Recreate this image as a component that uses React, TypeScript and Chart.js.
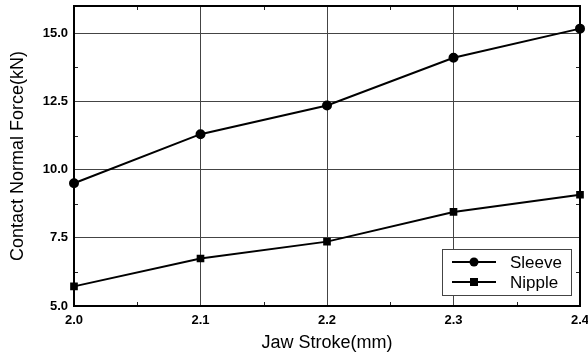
import React, { useEffect, useRef } from "react";
import { Chart, registerables } from "chart.js";

Chart.register(...registerables);

const jawStroke = [2.0, 2.1, 2.2, 2.3, 2.4];
const sleeveForce = [9.5, 11.3, 12.35, 14.1, 15.17];
const nippleForce = [5.72, 6.74, 7.36, 8.45, 9.08];
const yTicks = [5.0, 7.5, 10.0, 12.5, 15.0];
const xTicks = [2.0, 2.1, 2.2, 2.3, 2.4];
const seriesNames = ["Sleeve", "Nipple"];

const FONT = "'Liberation Sans', Arial, sans-serif";

const frameAndMinor = {
  id: "frameAndMinor",
  afterDatasetsDraw(chart: any) {
    const { ctx, chartArea, scales } = chart;
    const xs = scales.x;
    const ys = scales.y;
    ctx.save();
    ctx.strokeStyle = "#222";
    ctx.lineWidth = 1;
    for (let i = 0; i < xTicks.length - 1; i++) {
      const v = (xTicks[i] + xTicks[i + 1]) / 2;
      const px = Math.round(xs.getPixelForValue(v)) + 0.5;
      ctx.beginPath();
      ctx.moveTo(px, chartArea.bottom);
      ctx.lineTo(px, chartArea.bottom - 4);
      ctx.moveTo(px, chartArea.top);
      ctx.lineTo(px, chartArea.top + 4);
      ctx.stroke();
    }
    for (let i = 0; i < yTicks.length - 1; i++) {
      const v = (yTicks[i] + yTicks[i + 1]) / 2;
      const py = Math.round(ys.getPixelForValue(v)) + 0.5;
      ctx.beginPath();
      ctx.moveTo(chartArea.left, py);
      ctx.lineTo(chartArea.left + 4, py);
      ctx.moveTo(chartArea.right, py);
      ctx.lineTo(chartArea.right - 4, py);
      ctx.stroke();
    }
    ctx.strokeStyle = "#000";
    ctx.lineWidth = 2;
    ctx.strokeRect(chartArea.left, chartArea.top, chartArea.right - chartArea.left, chartArea.bottom - chartArea.top);
    ctx.restore();
  },
};

const boxLegend = {
  id: "boxLegend",
  afterDraw(chart: any) {
    const { ctx, chartArea } = chart;
    const w = 129;
    const h = 46;
    const x0 = chartArea.right - 9 - w;
    const y0 = chartArea.bottom - 11 - h;
    ctx.save();
    ctx.fillStyle = "#fff";
    ctx.fillRect(x0, y0, w, h);
    ctx.strokeStyle = "#444";
    ctx.lineWidth = 1;
    ctx.strokeRect(x0 + 0.5, y0 + 0.5, w, h);
    const styles = ["circle", "rect"];
    chart.data.datasets.forEach((ds: any, i: number) => {
      const cy = y0 + 13 + i * 20;
      ctx.strokeStyle = "#000";
      ctx.lineWidth = 2;
      ctx.beginPath();
      ctx.moveTo(x0 + 10, cy);
      ctx.lineTo(x0 + 54, cy);
      ctx.stroke();
      ctx.fillStyle = "#000";
      if (styles[i] === "circle") {
        ctx.beginPath();
        ctx.arc(x0 + 32, cy, 4.5, 0, Math.PI * 2);
        ctx.fill();
      } else {
        ctx.fillRect(x0 + 28, cy - 4, 8, 8);
      }
      ctx.font = `17px ${FONT}`;
      ctx.textBaseline = "middle";
      ctx.textAlign = "left";
      ctx.fillText(ds.label, x0 + 68, cy + 1);
    });
    ctx.restore();
  },
};

export default function App() {
  const ref = useRef<HTMLCanvasElement | null>(null);
  useEffect(() => {
    document.body.style.margin = "0";
    const canvas = ref.current;
    if (!canvas) return;
    const chart = new Chart(canvas, {
      type: "line",
      data: {
        datasets: [
          {
            label: seriesNames[0],
            data: jawStroke.map((x, i) => ({ x, y: sleeveForce[i] })),
            borderColor: "#000",
            backgroundColor: "#000",
            borderWidth: 2,
            pointStyle: "circle",
            pointRadius: 4,
            tension: 0,
            clip: false as any,
          },
          {
            label: seriesNames[1],
            data: jawStroke.map((x, i) => ({ x, y: nippleForce[i] })),
            borderColor: "#000",
            backgroundColor: "#000",
            borderWidth: 2,
            pointStyle: "rect",
            pointRadius: 4,
            tension: 0,
            clip: false as any,
          },
        ],
      },
      options: {
        animation: false,
        responsive: false,
        maintainAspectRatio: false,
        layout: { padding: { top: 5, right: 8, left: 0, bottom: 0 } },
        plugins: {
          legend: { display: false },
          tooltip: { enabled: false },
        },
        scales: {
          x: {
            type: "linear",
            min: 2.0,
            max: 2.4,
            afterFit: (s: any) => {
              s.height = 52;
              s.paddingLeft = 0;
              s.paddingRight = 0;
            },
            afterBuildTicks: (s: any) => {
              s.ticks = xTicks.map((v) => ({ value: v }));
            },
            ticks: {
              color: "#000",
              font: { family: FONT, size: 13, weight: "bold" },
              padding: 7,
              maxRotation: 0,
              callback: (v: any) => Number(v).toFixed(1),
            },
            grid: { color: "#444", lineWidth: 1, drawTicks: false },
            border: { color: "#000", width: 2 },
            title: {
              display: true,
              text: "Jaw Stroke(mm)",
              color: "#000",
              font: { family: FONT, size: 18 },
              padding: { top: 5 },
            },
          },
          y: {
            type: "linear",
            min: 5.0,
            max: 16.0,
            afterFit: (s: any) => {
              s.width = 74;
              s.paddingTop = 0;
              s.paddingBottom = 0;
            },
            afterBuildTicks: (s: any) => {
              s.ticks = yTicks.map((v) => ({ value: v }));
            },
            ticks: {
              color: "#000",
              font: { family: FONT, size: 13, weight: "bold" },
              padding: 6,
              callback: (v: any) => Number(v).toFixed(1),
            },
            grid: { color: "#444", lineWidth: 1, drawTicks: false },
            border: { color: "#000", width: 2 },
            title: {
              display: true,
              text: "Contact Normal Force(kN)",
              color: "#000",
              font: { family: FONT, size: 18 },
              padding: { top: 7, bottom: 4 },
            },
          },
        },
      },
      plugins: [frameAndMinor, boxLegend],
    });
    return () => chart.destroy();
  }, []);
  return (
    <div style={{ position: "fixed", left: 0, top: 0, width: 588, height: 358, background: "#fff" }}>
      <canvas ref={ref} width={588} height={358} style={{ width: 588, height: 358, display: "block" }} />
    </div>
  );
}
